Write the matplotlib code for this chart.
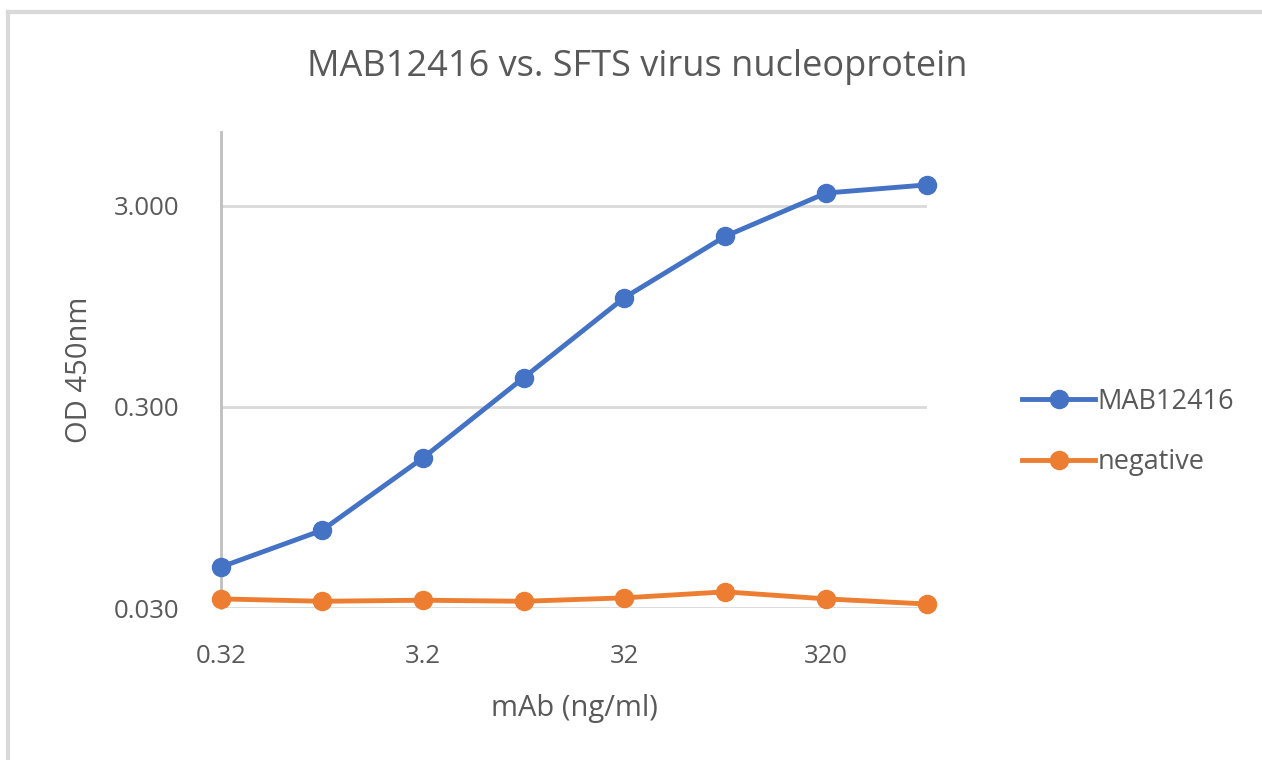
import matplotlib.pyplot as plt
from matplotlib.lines import Line2D

plt.rcParams['font.family'] = ['Open Sans', 'DejaVu Sans']

# concentrations (ng/ml) and OD readings
conc = ["0.32", "1", "3.2", "10", "32", "100", "320", "1000"]
mab = [0.048, 0.073, 0.167, 0.419, 1.05, 2.12, 3.48, 3.82]
neg = [0.0333, 0.0324, 0.0328, 0.0324, 0.0337, 0.0361, 0.0333, 0.0314]
yticks = [0.03, 0.3, 3.0]

fig = plt.figure(figsize=(12.62, 7.6), dpi=100)
ax = fig.add_axes([221 / 1262, 1 - 608 / 760, (927 - 221) / 1262, (608 - 132) / 760])

x = range(len(conc))
ax.plot(x, mab, color='#4472C4', lw=3.5, marker='o', ms=13, label='MAB12416', clip_on=False, zorder=3)
ax.plot(x, neg, color='#ED7D31', lw=3.5, marker='o', ms=13, label='negative', clip_on=False, zorder=3)

ax.set_yscale('log')
ax.set_ylim(0.03, 7.0)
ax.set_xlim(0, len(conc) - 1)
ax.set_yticks(yticks)
ax.set_yticklabels([f"{v:.3f}" for v in yticks])
ax.minorticks_off()
ax.set_xticks(list(x)[::2])
ax.set_xticklabels(conc[::2])
ax.grid(axis='y', color='#D9D9D9', lw=2)
ax.set_axisbelow(True)

for s in ['top', 'right', 'bottom']:
    ax.spines[s].set_visible(False)
ax.spines['left'].set_color('#BFBFBF')
ax.spines['left'].set_linewidth(2)
ax.tick_params(length=0, labelsize=18.5, colors='#595959')
ax.tick_params(axis='x', pad=26)
ax.tick_params(axis='y', pad=30)

ax.set_xlabel('mAb (ng/ml)', fontsize=21, color='#595959', labelpad=18)
ax.set_ylabel('OD 450nm', fontsize=21, color='#595959', labelpad=14)
fig.text(637 / 1262, 1 - 67 / 760, 'MAB12416 vs. SFTS virus nucleoprotein',
         fontsize=26, color='#595959', ha='center', va='center')

ax.legend(loc='center left', bbox_to_anchor=(1.1, 0.37), frameon=False,
          fontsize=19.5, labelcolor='#595959', handlelength=2.7, handletextpad=0.1,
          labelspacing=1.2)

# chart border (top and left edges visible)
fig.add_artist(Line2D([7.5 / 1262, 1], [1 - 11.5 / 760, 1 - 11.5 / 760], color='#D9D9D9', lw=3))
fig.add_artist(Line2D([7.5 / 1262, 7.5 / 1262], [0, 1 - 11.5 / 760], color='#D9D9D9', lw=3))

fig.savefig('out.png', dpi=100, facecolor='white')
